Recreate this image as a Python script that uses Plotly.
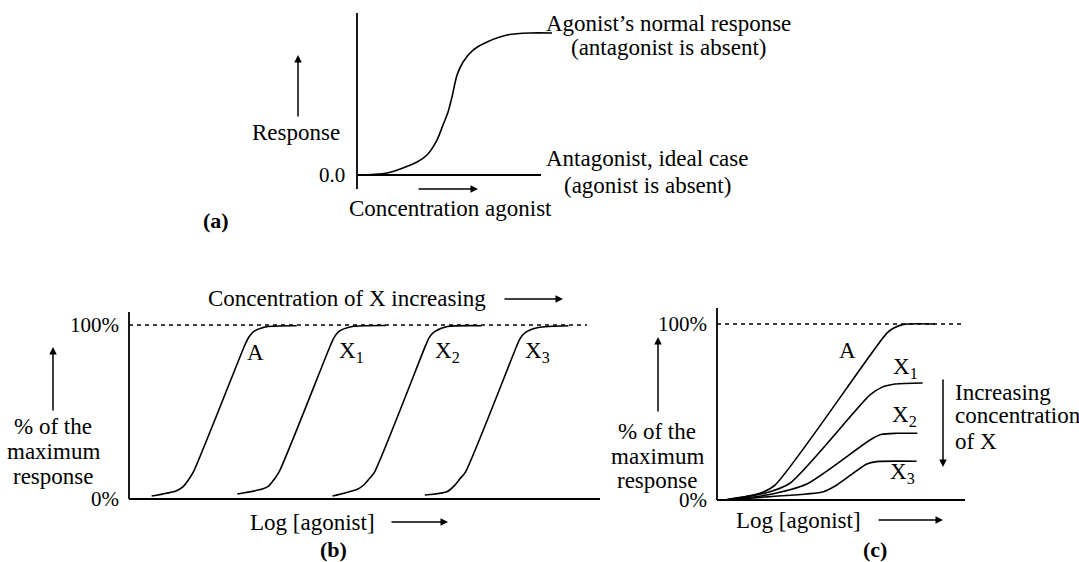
import plotly.graph_objects as go

W, H = 1079, 562
FONT = "'Liberation Serif', 'Times New Roman', Tinos, 'DejaVu Serif', serif"
INK = "black"
TEXT_SIZE = 23
TICK_SIZE = 21

# ---------------- data ----------------
# (a) agonist alone: response vs concentration
conc_a = [0.0, 1.54, 3.08, 3.59, 4.10, 4.41, 4.67, 4.87, 5.13, 5.44, 5.95, 6.67, 7.69, 8.87, 10.0]
resp_a = [0.0, 0.014, 0.092, 0.141, 0.246, 0.352, 0.444, 0.549, 0.704, 0.796, 0.880, 0.937, 0.986, 1.0, 1.0]
# antagonist alone: no response over the concentration span
conc_antag = [0.0, 9.44]
resp_antag = [0.0, 0.0]

# (b) competitive antagonist X: % of maximum response vs log[agonist]
logc_b = {
    "A": [0.48, 1.01, 1.15, 1.26, 1.37, 2.46, 2.53, 2.64, 2.92, 3.56],
    "X1": [2.30, 2.83, 2.97, 3.08, 3.19, 4.28, 4.35, 4.46, 4.74, 5.45],
    "X2": [4.32, 4.85, 4.99, 5.10, 5.21, 6.30, 6.37, 6.48, 6.76, 7.49],
    "X3": [6.28, 6.75, 6.92, 7.03, 7.14, 8.23, 8.30, 8.41, 8.69, 9.33],
}
pct_b = {
    "A": [1.7, 4.8, 7.1, 10.9, 15.7, 88.5, 92.4, 96.1, 99.0, 99.6],
    "X1": [2.9, 5.7, 7.6, 11.2, 15.7, 88.5, 92.6, 96.3, 99.1, 99.7],
    "X2": [1.7, 5.6, 8.2, 11.6, 15.3, 88.4, 92.6, 96.0, 99.1, 99.6],
    "X3": [2.3, 4.2, 8.0, 11.8, 15.3, 87.8, 92.0, 95.6, 98.6, 99.6],
}

# (c) non-competitive antagonist X
logc_c = {
    "A": [0.32, 1.73, 2.34, 6.84, 7.11, 7.51, 8.79],
    "X1": [0.32, 2.00, 2.94, 6.17, 6.64, 7.18, 8.29],
    "X2": [0.32, 2.00, 3.62, 6.17, 6.64, 7.25, 8.08],
    "X3": [0.32, 2.14, 4.29, 4.83, 6.04, 6.44, 8.05],
}
pct_c = {
    "A": [0.0, 3.8, 8.5, 94.7, 97.6, 99.8, 100.0],
    "X1": [0.0, 4.1, 9.5, 59.7, 64.0, 65.9, 66.5],
    "X2": [0.0, 2.8, 9.1, 34.1, 37.3, 37.9, 37.9],
    "X3": [0.0, 1.9, 4.7, 8.5, 20.5, 21.8, 22.0],
}

curve_names = ["A", "X1", "X2", "X3"]
curve_text = {"A": "A", "X1": "X<sub>1</sub>", "X2": "X<sub>2</sub>", "X3": "X<sub>3</sub>"}
pct_ticks = [0, 100]
pct_tick_text = ["0%", "100%"]


# ---------------- helpers ----------------
def fx(p):
    return p / W


def fy(p):
    return 1 - p / H


def xrange_for(origin, unit, lo, hi):
    return [(lo - origin) / unit, (hi - origin) / unit]


def yrange_for(origin, unit, top, bottom):
    return [(origin - bottom) / unit, (origin - top) / unit]


def label(s, x, y, anchor="center", size=TEXT_SIZE, bold=False):
    return dict(
        text=f"<b>{s}</b>" if bold else s,
        x=fx(x), y=fy(y), xref="paper", yref="paper",
        xanchor=anchor, yanchor="middle", showarrow=False,
        font=dict(family=FONT, size=size, color=INK),
    )


def arrow(x0, y0, x1, y1):
    return dict(
        text="", x=fx(x1), y=fy(y1), xref="paper", yref="paper",
        ax=x0 - x1, ay=y0 - y1, axref="pixel", ayref="pixel",
        showarrow=True, arrowhead=2, arrowsize=1.0, arrowwidth=1.5,
        arrowcolor=INK, standoff=0, startstandoff=0,
    )


def seg(x0, y0, x1, y1, width=1.8, dash="solid"):
    return dict(type="line", xref="paper", yref="paper",
                x0=fx(x0), y0=fy(y0), x1=fx(x1), y1=fy(y1),
                line=dict(color=INK, width=width, dash=dash))


fig = go.Figure()
line_style = dict(color=INK, width=1.6)

# panel (a)
fig.add_trace(go.Scatter(x=conc_a, y=resp_a, mode="lines", xaxis="x", yaxis="y",
                         line=dict(shape="spline", smoothing=0.8, **line_style)))
fig.add_trace(go.Scatter(x=conc_antag, y=resp_antag, mode="lines", xaxis="x", yaxis="y",
                         line=dict(color=INK, width=1.8)))

# panel (b)
for name in curve_names:
    fig.add_trace(go.Scatter(x=logc_b[name], y=pct_b[name], mode="lines", xaxis="x2", yaxis="y2",
                             line=dict(shape="spline", smoothing=0.7, **line_style)))

# panel (c)
for name in curve_names:
    fig.add_trace(go.Scatter(x=logc_c[name], y=pct_c[name], mode="lines", xaxis="x3", yaxis="y3",
                             line=dict(shape="spline", smoothing=0.7, **line_style)))

hidden = dict(visible=False, fixedrange=True)
layout_axes = dict(
    xaxis=dict(domain=[fx(300), fx(600)], range=xrange_for(357, 19.5, 300, 600), anchor="y", **hidden),
    yaxis=dict(domain=[fy(200), fy(5)], range=yrange_for(175, 142, 5, 200), anchor="x", **hidden),
    xaxis2=dict(domain=[fx(100), fx(610)], range=xrange_for(129, 47.1, 100, 610), anchor="y2", **hidden),
    yaxis2=dict(domain=[fy(510), fy(300)], range=yrange_for(499, 1.74, 300, 510), anchor="x2", **hidden),
    xaxis3=dict(domain=[fx(700), fx(975)], range=xrange_for(717, 24.8, 700, 975), anchor="y3", **hidden),
    yaxis3=dict(domain=[fy(510), fy(300)], range=yrange_for(500, 1.76, 300, 510), anchor="x3", **hidden),
)

shapes = [
    # (a) response axis
    seg(357, 13, 357, 189),
    # (b) axes and 100% reference
    seg(129, 312, 129, 499),
    seg(129, 499, 600, 499),
    dict(type="line", xref="paper", yref="y2", x0=fx(129), x1=fx(587), y0=100, y1=100,
         line=dict(color=INK, width=1.3, dash="4px,4px")),
    # (c) axes and 100% reference
    seg(717, 308, 717, 500),
    seg(717, 500, 965, 500),
    dict(type="line", xref="paper", yref="y3", x0=fx(717), x1=fx(965), y0=100, y1=100,
         line=dict(color=INK, width=1.3, dash="4px,4px")),
]

annotations = [
    # (a)
    label("Agonist’s normal response", 668, 24),
    label("(antagonist is absent)", 668, 48),
    label("Antagonist, ideal case", 647, 159),
    label("(agonist is absent)", 647, 186),
    label("Response", 342, 132, anchor="right"),
    arrow(298, 118, 298, 55),
    label("0.0", 347, 175, anchor="right", size=TICK_SIZE),
    arrow(417, 189, 478, 189),
    label("Concentration agonist", 450, 209),
    label("(a)", 216, 220, size=22, bold=True),
    # (b)
    label("Concentration of X increasing", 488, 298, anchor="right"),
    arrow(503, 299, 563, 299),
    arrow(53, 412, 53, 347),
    label("% of the", 53, 426),
    label("maximum", 53, 451),
    label("response", 53, 476),
    label("Log [agonist]", 312, 522),
    arrow(390, 522, 448, 522),
    label("(b)", 333, 549, size=22, bold=True),
    # (c)
    arrow(658, 413, 658, 337),
    label("% of the", 657, 431),
    label("maximum", 657, 456),
    label("response", 657, 480),
    arrow(943, 378, 943, 467),
    label("Increasing", 953, 392, anchor="left"),
    label("concentration", 953, 416, anchor="left"),
    label("of X", 953, 441, anchor="left"),
    label("Log [agonist]", 798, 520),
    arrow(877, 520, 943, 520),
    label("(c)", 875, 549, size=22, bold=True),
]

# percentage tick labels for (b) and (c)
for yref, xr in (("y2", 121), ("y3", 709)):
    for v, t in zip(pct_ticks, pct_tick_text):
        annotations.append(dict(text=t, x=fx(xr), y=v, xref="paper", yref=yref,
                                xanchor="right", yanchor="middle", showarrow=False,
                                font=dict(family=FONT, size=TICK_SIZE, color=INK)))

# curve labels
for name, (x, y) in zip(curve_names, [(255, 352), (351, 352), (447, 352), (537, 352)]):
    annotations.append(label(curve_text[name], x, y))
for name, (x, y) in zip(curve_names, [(847, 350), (905, 368), (904, 416), (902, 473)]):
    annotations.append(label(curve_text[name], x, y))

fig.update_layout(
    width=W, height=H,
    margin=dict(l=0, r=0, t=0, b=0),
    paper_bgcolor="white", plot_bgcolor="rgba(0,0,0,0)",
    showlegend=False,
    font=dict(family=FONT, color=INK),
    shapes=shapes,
    annotations=annotations,
    **layout_axes,
)

fig.write_html("out.html", config={"displayModeBar": False})
